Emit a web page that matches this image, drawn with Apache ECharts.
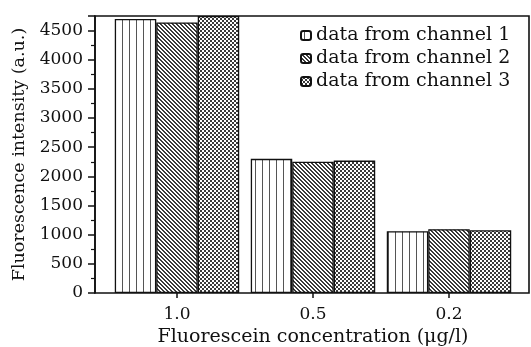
<!DOCTYPE html>
<html>
<head>
<meta charset="utf-8">
<style>html,body{margin:0;padding:0;width:531px;height:347px;background:#fff;overflow:hidden;}#chart{width:531px;height:347px;}</style>
<script src="https://cdn.jsdelivr.net/npm/echarts@6/dist/echarts.min.js"></script>
</head>
<body>
<div id="chart"></div>
<script>
var categories = ["1.0", "0.5", "0.2"];
var channel1 = [4700, 2300, 1060];
var channel2 = [4640, 2250, 1095];
var channel3 = [4750, 2270, 1075];
var seriesNames = ["data from channel 1", "data from channel 2", "data from channel 3"];

var FONT = "DejaVu Serif";

// small canvas tiles used as fill patterns
function tile(w, h, draw) {
  var c = document.createElement("canvas");
  c.width = w; c.height = h;
  var ctx = c.getContext("2d");
  ctx.fillStyle = "#fff";
  ctx.fillRect(0, 0, w, h);
  draw(ctx);
  return c;
}
var vlines = tile(7, 4, function (ctx) {
  ctx.fillStyle = "#555";
  ctx.fillRect(3, 0, 1, 4);
});
var diag = tile(4, 4, function (ctx) {
  ctx.fillStyle = "#3a3a3a";
  for (var i = 0; i < 4; i++) {
    ctx.fillRect(i, i, 1, 1);
    ctx.fillRect((i + 1) % 4, i, 1, 1);
  }
});
var mesh = tile(4, 4, function (ctx) {
  ctx.fillStyle = "#3a3a3a";
  ctx.fillRect(0, 0, 4, 4);
  ctx.fillStyle = "#fff";
  ctx.fillRect(0, 0, 2, 2);
  ctx.fillRect(2, 2, 2, 2);
});
var patterns = [vlines, diag, mesh];
var values = [channel1, channel2, channel3];

var chart = echarts.init(document.getElementById("chart"), null, { renderer: "canvas" });

var series = values.map(function (v, i) {
  return {
    name: seriesNames[i],
    type: "bar",
    xAxisIndex: 1,
    yAxisIndex: 1,
    data: v,
    barGap: "0%",
    barCategoryGap: "8.5%",
    itemStyle: {
      color: { image: patterns[i], repeat: "repeat" },
      borderColor: "#111",
      borderWidth: 1.3
    }
  };
});

chart.setOption({
  animation: false,
  backgroundColor: "#fff",
  textStyle: { fontFamily: FONT },
  grid: [
    { left: 95, right: 2, top: 16, bottom: 54, containLabel: false, outerBoundsMode: "none",
      show: true, borderColor: "#111", borderWidth: 1.6, backgroundColor: "transparent" },
    { left: 109, right: 14, top: 16, bottom: 54, containLabel: false, outerBoundsMode: "none" }
  ],
  legend: {
    orient: "vertical",
    left: 295,
    top: 21,
    itemWidth: 10,
    itemHeight: 9,
    itemGap: 4,
    textStyle: { fontFamily: FONT, fontSize: 19, color: "#111" },
    data: seriesNames
  },
  xAxis: [
    { type: "value", gridIndex: 0, show: false },
    {
      type: "category",
      gridIndex: 1,
      data: categories,
      axisLine: { show: false },
      axisTick: { show: true, alignWithLabel: true, length: 5, lineStyle: { color: "#111", width: 1.5 } },
      axisLabel: { fontFamily: FONT, fontSize: 17, color: "#111", margin: 13 },
      name: "Fluorescein concentration (\u03bcg/l)",
      nameLocation: "middle",
      nameGap: 32,
      nameTextStyle: { fontFamily: FONT, fontSize: 19, color: "#111" }
    }
  ],
  yAxis: [
    {
      type: "value",
      gridIndex: 0,
      min: 0,
      max: 4750,
      interval: 500,
      splitLine: { show: false },
      axisLine: { show: true, lineStyle: { color: "#111", width: 1.6 } },
      axisTick: { show: true, length: 7, lineStyle: { color: "#111", width: 1.5 } },
      minorTick: { show: true, splitNumber: 2, length: 4, lineStyle: { color: "#111", width: 1.2 } },
      axisLabel: {
        fontFamily: FONT, fontSize: 17, color: "#111", margin: 12, showMaxLabel: false,
        formatter: function (v) { return String(v); }
      },
      name: "Fluorescence intensity (a.u.)",
      nameLocation: "middle",
      nameGap: 67,
      nameTextStyle: { fontFamily: FONT, fontSize: 17.5, color: "#111" }
    },
    { type: "value", gridIndex: 1, min: 0, max: 4750, show: false }
  ],
  series: series
});
</script>
</body>
</html>
